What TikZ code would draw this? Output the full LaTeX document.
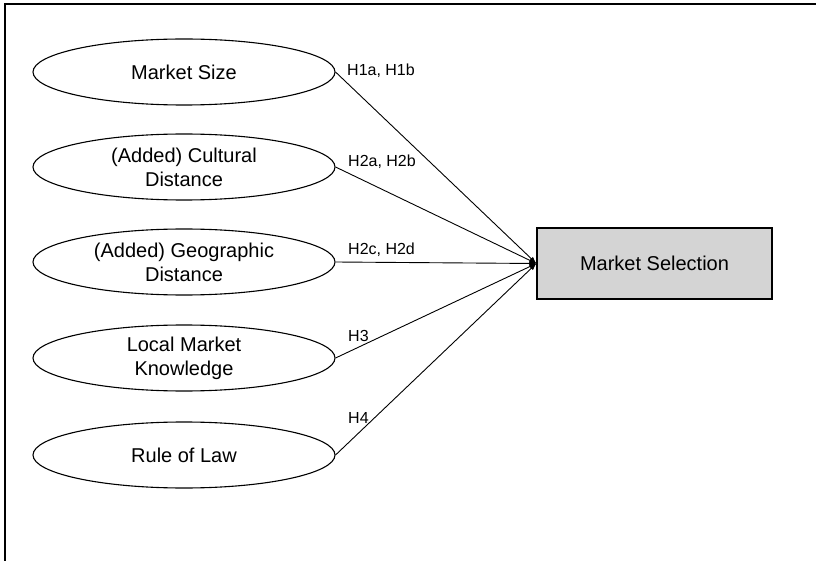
\documentclass[tikz,border=0pt]{standalone}
\usepackage{fontspec}
\setmainfont{Liberation Sans}
\usetikzlibrary{shapes.geometric,arrows.meta}
\definecolor{boxgrey}{RGB}{212,212,212}
\begin{document}
\begin{tikzpicture}[x=1pt,y=-1pt,
  factor/.style={draw=black, line width=1.1pt, ellipse, minimum width=302pt,
    minimum height=66pt, inner sep=0pt, align=center,
    font=\fontsize{20}{24}\selectfont},
  outcome/.style={draw=black, line width=1.3pt, fill=boxgrey, rectangle,
    minimum width=235pt, minimum height=71pt, inner sep=0pt,
    font=\fontsize{20}{24}\selectfont},
  path/.style={line width=0.9pt, -{Latex[length=7pt,width=5pt]}},
  hyp/.style={anchor=west, inner sep=0pt, font=\fontsize{16}{19}\selectfont}]
\useasboundingbox (0,0) rectangle (816,561);
% frame lines
\draw[line width=1.3pt] (5,561) -- (5,4) -- (816,4);
% predictor ellipses
\node[factor] (size) at (184,72)  {Market Size};
\node[factor] (cult) at (184,167) {(Added) Cultural\\Distance};
\node[factor] (geo)  at (184,262) {(Added) Geographic\\Distance};
\node[factor] (know) at (184,358) {Local Market\\Knowledge};
\node[factor] (law)  at (184,455) {Rule of Law};
% outcome box
\node[outcome] (sel) at (654.5,263.5) {Market Selection};
% paths
\foreach \n in {size,cult,geo,know,law}
  \draw[path] (\n.east) -- (sel.west);
% hypothesis labels
\node[hyp] (h1) at (347,71)  {H1a, H1b};
\node[hyp] (h2) at (348,162) {H2a, H2b};
\node[hyp] (h2c) at (348,250) {H2c, H2d};
\node[hyp] (h3) at (348,336) {H3};
\node[hyp] (h4) at (348,418) {H4};
\end{tikzpicture}
\end{document}
